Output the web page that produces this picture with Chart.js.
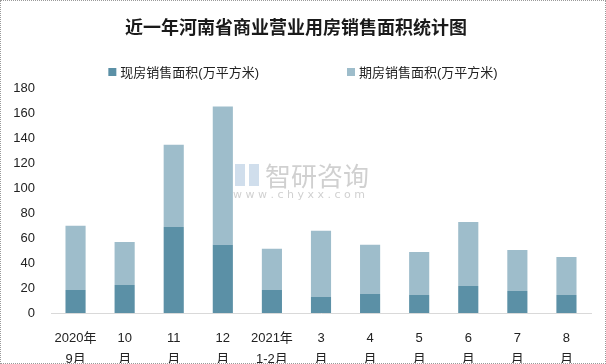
<!DOCTYPE html>
<html>
<head>
<meta charset="utf-8">
<script src="https://cdn.jsdelivr.net/npm/chart.js@4.4.0/dist/chart.umd.min.js"></script>
<style>
  html, body { margin: 0; padding: 0; background: #fff; }
  #wrap { position: relative; width: 606px; height: 364px; box-sizing: border-box; border: 1px dotted #9a9a9a; }
  canvas { display: block; }
</style>
</head>
<body>
<div id="wrap"><canvas id="myBarChart" width="604" height="362"></canvas></div>
<script>
// 月份标签
var months = [['2020年', '9月'], ['10', '月'], ['11', '月'], ['12', '月'], ['2021年', '1-2月'],
              ['3', '月'], ['4', '月'], ['5', '月'], ['6', '月'], ['7', '月'], ['8', '月']];
// 现房销售面积(万平方米)
var xianfang = [18.5, 22.5, 69, 54.7, 18.5, 12.9, 15.3, 14.5, 21.7, 17.7, 14.5];
// 期房销售面积(万平方米)
var qifang = [51.5, 34.5, 66, 111, 33, 53, 39.4, 34.5, 51.3, 32.9, 30.5];
var yTicks = [0, 20, 40, 60, 80, 100, 120, 140, 160, 180];

var txtFont = '"Liberation Sans", "Noto Sans CJK SC", sans-serif';

// 图例 (两项间距较大, 自己画)
var legendPlugin = {
    id: 'wideLegend',
    afterDraw: function(chart) {
        var ctx = chart.ctx;
        var ds = chart.data.datasets;
        ctx.save();
        ctx.font = '13px ' + txtFont;
        ctx.textBaseline = 'middle';
        var gap = 88, box = 8, sp = 4;
        var widths = ds.map(function(d) { return box + sp + ctx.measureText(d.label).width; });
        var total = widths[0] + gap + widths[1];
        var x = chart.width / 2 - total / 2;
        var y = 71;
        for (var i = 0; i < ds.length; i++) {
            ctx.fillStyle = ds[i].backgroundColor;
            ctx.fillRect(x, y - box / 2, box, box);
            ctx.fillStyle = '#222';
            ctx.fillText(ds[i].label, x + box + sp, y + 1);
            x += widths[i] + gap;
        }
        ctx.restore();
    }
};

// 水印
var watermark = {
    id: 'watermark',
    afterDatasetsDraw: function(chart) {
        var ctx = chart.ctx;
        ctx.save();
        ctx.fillStyle = 'rgba(150,150,150,0.45)';
        ctx.textBaseline = 'middle';
        ctx.font = '26px "Noto Sans CJK SC", sans-serif';
        ctx.fillText('智研咨询', 264, 175);
        ctx.font = '11px "DejaVu Sans", sans-serif';
        ctx.fillText('w w w . c h y x x . c o m', 232, 194);
        ctx.fillStyle = 'rgba(120,160,200,0.35)';
        ctx.fillRect(234, 163, 10, 22);
        ctx.fillRect(248, 163, 10, 22);
        ctx.restore();
    }
};

var ctx = document.getElementById('myBarChart').getContext('2d');
var myChart = new Chart(ctx, {
    type: 'bar',
    data: {
        labels: months,
        datasets: [{
            label: '现房销售面积(万平方米)',
            data: xianfang,
            backgroundColor: '#5b90a6',
            borderWidth: 0,
            barPercentage: 0.82,
            categoryPercentage: 0.5
        }, {
            label: '期房销售面积(万平方米)',
            data: qifang,
            backgroundColor: '#9ebdcb',
            borderWidth: 0,
            barPercentage: 0.82,
            categoryPercentage: 0.5
        }]
    },
    plugins: [legendPlugin, watermark],
    options: {
        responsive: false,
        animation: false,
        layout: { padding: { left: 0, right: 14, top: 0, bottom: 0 } },
        plugins: {
            legend: { display: false },
            tooltip: { enabled: false },
            title: {
                display: true,
                text: '近一年河南省商业营业用房销售面积统计图',
                color: '#1a1a1a',
                font: { family: '"Noto Sans CJK SC", sans-serif', size: 18, weight: 'bold' },
                padding: { top: 15, bottom: 51 }
            }
        },
        scales: {
            x: {
                stacked: true,
                grid: { display: false, drawTicks: false },
                border: { display: true, color: '#d9d9d9', width: 1 },
                ticks: {
                    color: '#222',
                    font: { family: txtFont, size: 13, lineHeight: 1.6 },
                    padding: 15,
                    maxRotation: 0,
                    autoSkip: false
                },
                afterFit: function(scale) { scale.height = 50; }
            },
            y: {
                stacked: true,
                min: 0,
                max: 180,
                grid: { display: false, drawTicks: false },
                border: { display: false },
                afterBuildTicks: function(scale) {
                    scale.ticks = yTicks.map(function(v) { return { value: v }; });
                },
                ticks: {
                    color: '#222',
                    font: { family: txtFont, size: 13 },
                    padding: 16
                },
                afterFit: function(scale) { scale.width = 50; }
            }
        }
    }
});
</script>
</body>
</html>
